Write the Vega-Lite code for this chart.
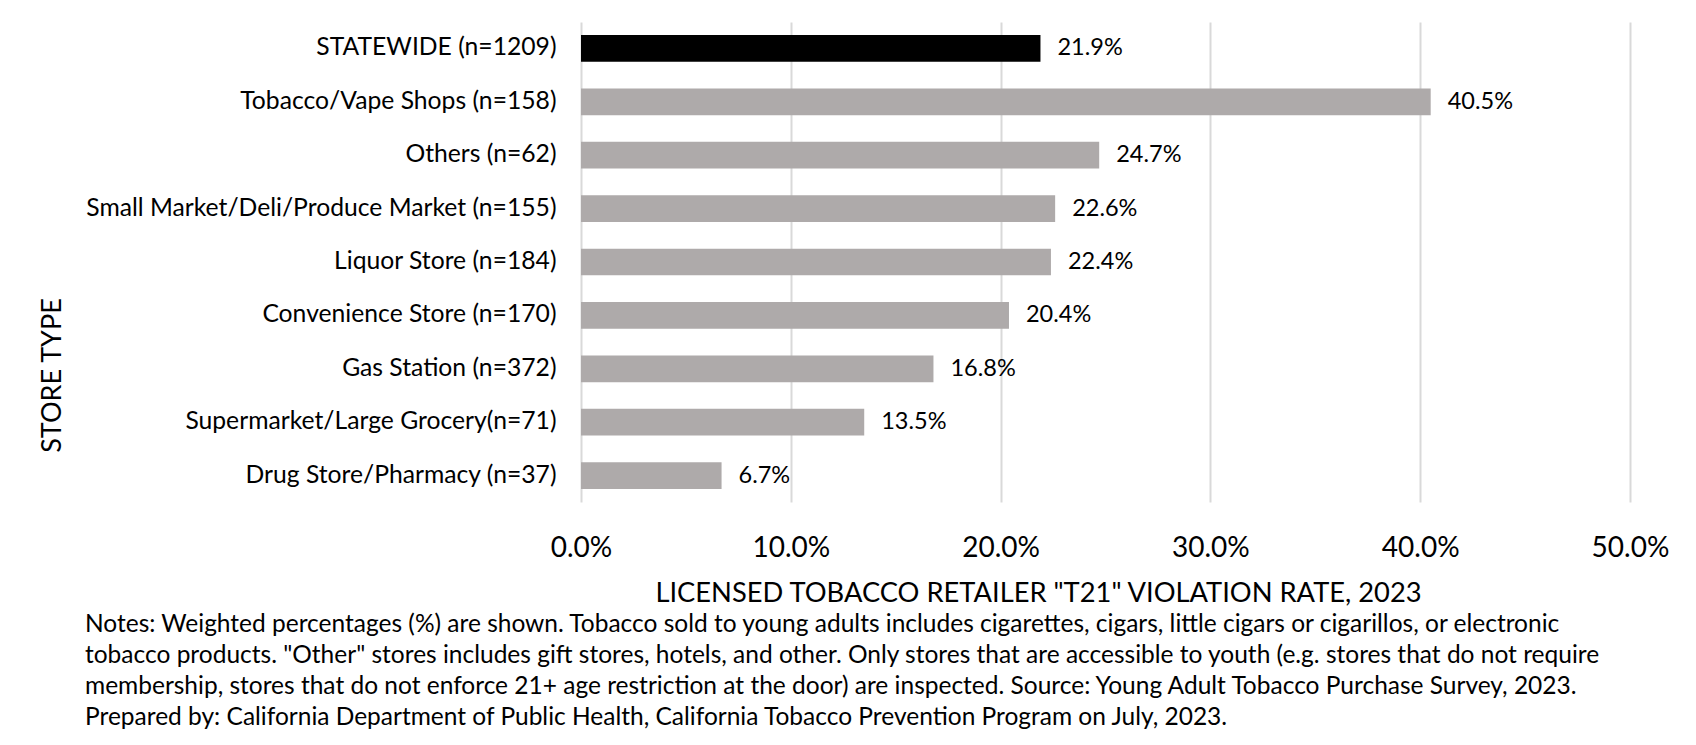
{
  "$schema": "https://vega.github.io/schema/vega-lite/v6.json",
  "autosize": {"type": "none"},
  "width": 1049,
  "height": 480,
  "padding": {"left": 581, "top": 22, "right": 66, "bottom": 243},
  "background": "white",
  "config": {
    "font": "Lato",
    "view": {"stroke": null},
    "axis": {"labelColor": "#000000", "titleColor": "#000000", "titleFontWeight": "normal"}
  },
  "title": {
    "text": [
      "Notes: Weighted percentages (%) are shown. Tobacco sold to young adults includes cigarettes, cigars, little cigars or cigarillos, or electronic",
      "tobacco products. \"Other\" stores includes gift stores, hotels, and other. Only stores that are accessible to youth (e.g. stores that do not require",
      "membership, stores that do not enforce 21+ age restriction at the door) are inspected. Source: Young Adult Tobacco Purchase Survey, 2023.",
      "Prepared by: California Department of Public Health, California Tobacco Prevention Program on July, 2023."
    ],
    "orient": "bottom",
    "anchor": "start",
    "frame": "group",
    "dx": -496,
    "offset": 7,
    "font": "Lato",
    "fontSize": 24.5,
    "fontWeight": "normal",
    "color": "#000000",
    "lineHeight": 31
  },
  "data": {
    "values": [
      {"store": "STATEWIDE (n=1209)", "rate": 0.219, "group": "statewide"},
      {"store": "Tobacco/Vape Shops (n=158)", "rate": 0.405, "group": "store"},
      {"store": "Others (n=62)", "rate": 0.247, "group": "store"},
      {"store": "Small Market/Deli/Produce Market (n=155)", "rate": 0.226, "group": "store"},
      {"store": "Liquor Store (n=184)", "rate": 0.224, "group": "store"},
      {"store": "Convenience Store (n=170)", "rate": 0.204, "group": "store"},
      {"store": "Gas Station (n=372)", "rate": 0.168, "group": "store"},
      {"store": "Supermarket/Large Grocery(n=71)", "rate": 0.135, "group": "store"},
      {"store": "Drug Store/Pharmacy (n=37)", "rate": 0.067, "group": "store"}
    ]
  },
  "encoding": {
    "y": {
      "field": "store",
      "type": "nominal",
      "sort": null,
      "scale": {"paddingInner": 0.5, "paddingOuter": 0.245},
      "axis": {
        "title": "STORE TYPE",
        "titleFontSize": 27,
        "titleX": -529,
        "titleY": 353,
        "titleAngle": -90,
        "titleBaseline": "middle",
        "titleAlign": "center",
        "labelFontSize": 24.7,
        "labelLimit": 0,
        "labelPadding": 25,
        "ticks": false,
        "tickSize": 0,
        "domain": false,
        "grid": false
      }
    },
    "x": {
      "field": "rate",
      "type": "quantitative",
      "scale": {"domain": [0, 0.5], "nice": false},
      "axis": {
        "title": "LICENSED TOBACCO RETAILER \"T21\" VIOLATION RATE, 2023",
        "titleFontSize": 27.3,
        "titleX": 457,
        "titleY": 91,
        "titleBaseline": "middle",
        "titleAlign": "center",
        "values": [0, 0.1, 0.2, 0.3, 0.4, 0.5],
        "format": ".1%",
        "labelFontSize": 28,
        "labelFlush": false,
        "labelPadding": 46,
        "labelBaseline": "middle",
        "ticks": false,
        "tickSize": 0,
        "domain": false,
        "grid": true,
        "gridColor": "#D9D9D9",
        "gridWidth": 2
      }
    }
  },
  "layer": [
    {
      "mark": {"type": "bar"},
      "encoding": {
        "color": {
          "field": "group",
          "type": "nominal",
          "scale": {"domain": ["statewide", "store"], "range": ["#000000", "#AEAAAA"]},
          "legend": null
        }
      }
    },
    {
      "mark": {"type": "text", "align": "left", "baseline": "middle", "dx": 17, "fontSize": 23.5, "color": "#000000"},
      "encoding": {
        "text": {"field": "rate", "type": "quantitative", "format": ".1%"}
      }
    }
  ]
}
